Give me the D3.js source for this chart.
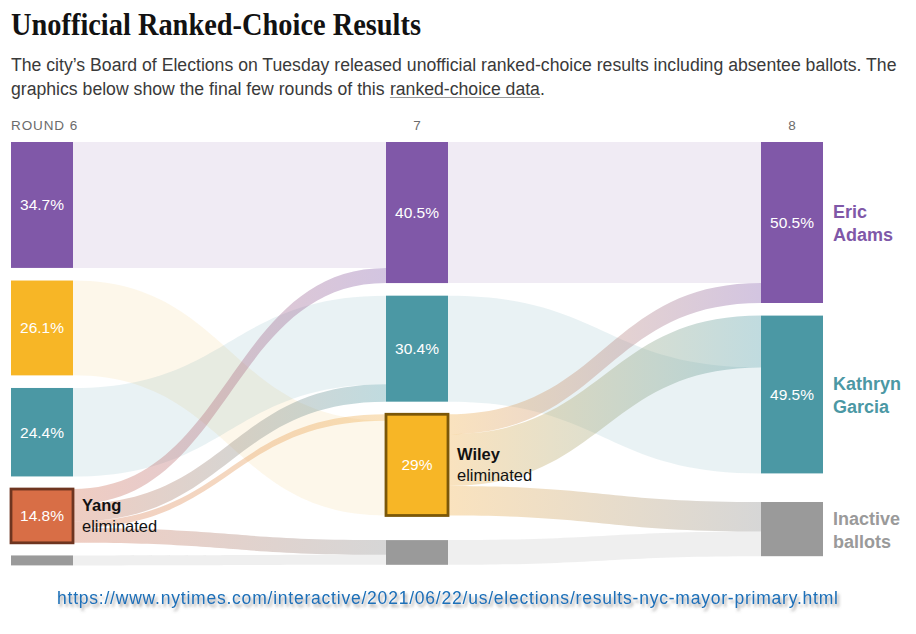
<!DOCTYPE html>
<html><head><meta charset="utf-8">
<script src="https://cdn.jsdelivr.net/npm/d3@7"></script>
<style>body{margin:0;background:#fff;} svg{display:block;}</style>
</head><body>
<svg id="chart" width="916" height="634"></svg>
<script>
// ---------------- DATA (votes in thousands) ----------------
const roundLabels = ["ROUND 6", "7", "8"];
const round6Names = ["Adams", "Wiley", "Garcia", "Yang", "Inactive"];
const round6Votes = [316, 238, 222, 135, 25];
const round6Pct   = ["34.7%", "26.1%", "24.4%", "14.8%", ""];
const round7Names = ["Adams", "Garcia", "Wiley", "Inactive"];
const round7Votes = [354, 266, 254, 62];
const round7Pct   = ["40.5%", "30.4%", "29%", ""];
const round8Names = ["Adams", "Garcia", "Inactive"];
const round8Votes = [404, 396, 136];
const round8Pct   = ["50.5%", "49.5%", ""];
const eliminated  = ["Yang", "Wiley"];
const yangTargets   = ["Adams", "Garcia", "Wiley", "Inactive"];
const yangTransfers = [38, 44, 16, 37];
const wileyTargets   = ["Adams", "Garcia", "Inactive"];
const wileyTransfers = [50, 130, 74];
const finalLabels = { Adams: ["Eric", "Adams"], Garcia: ["Kathryn", "Garcia"], Inactive: ["Inactive", "ballots"] };
const titleText = "Unofficial Ranked-Choice Results";
const subtitle1 = "The city\u2019s Board of Elections on Tuesday released unofficial ranked-choice results including absentee ballots. The";
const subtitle2a = "graphics below show the final few rounds of this";
const subtitle2b = "ranked-choice data";
const subtitle2c = ".";
const sourceUrl = "https://www.nytimes.com/interactive/2021/06/22/us/elections/results-nyc-mayor-primary.html";

// ---------------- STYLE / LAYOUT ----------------
const colors = { Adams: "#8058a8", Wiley: "#f7b626", Garcia: "#4b98a4", Yang: "#d86e46", Inactive: "#9a9a9a" };
const linkColors = { Adams: "#8058a8", Wiley: "#f0ad45", Garcia: "#4b98a4", Yang: "#d27050", Inactive: "#8a8a8a" };
const contColors = { Adams: "#8058a8", Wiley: "#eec15a", Garcia: "#4b98a4", Inactive: "#9a9a9a" };
const elimStroke = { Yang: "#6e3520", Wiley: "#7b5708" };
const transferOnTop = [[], ["Wiley", "Inactive"], ["Garcia", "Inactive"]];
const extraGap = [0, 12, 16];
const nodeW = 62, topY = 142, gap = 12.6;

const svg = d3.select("#chart");
const defs = svg.append("defs");
const sans = "'Liberation Sans', Arial, sans-serif";

const x = d3.scaleLinear().domain([0, 2]).range([11, 761]);
const totalVotes = d3.sum(round6Votes);
const h = d3.scaleLinear().domain([0, totalVotes]).range([0, 373]);

const rounds = [
  { names: round6Names, votes: round6Votes, pct: round6Pct },
  { names: round7Names, votes: round7Votes, pct: round7Pct },
  { names: round8Names, votes: round8Votes, pct: round8Pct }
];

// nodes
const columns = rounds.map((r, c) => {
  let y = topY;
  return r.names.map((name, i) => {
    if (name === "Inactive") y += extraGap[c];
    const n = { name, col: c, value: r.votes[i], pct: r.pct[i], x0: x(c), x1: x(c) + nodeW, y0: y, y1: y + h(r.votes[i]) };
    n.outOff = n.y0; n.inOff = n.y0;
    y = n.y1 + gap;
    return n;
  });
});
const findNode = (c, name) => columns[c].find(n => n.name === name);

// links
const links = [];
const transfers = [[yangTargets, yangTransfers], [wileyTargets, wileyTransfers]];
for (let c = 0; c < 2; c++) {
  const elim = eliminated[c];
  const [tNames, tVals] = transfers[c];
  const src = findNode(c, elim);
  const tLinks = tNames.map((t, i) => ({ source: src, target: findNode(c + 1, t), value: tVals[i], transfer: true }));
  const cLinks = columns[c].filter(n => n.name !== elim).map(n => ({ source: n, target: findNode(c + 1, n.name), value: n.value, transfer: false }));
  tLinks.forEach(l => { l.sy0 = src.outOff; l.sy1 = src.outOff + h(l.value); src.outOff = l.sy1; });
  cLinks.forEach(l => { l.sy0 = l.source.outOff; l.sy1 = l.sy0 + h(l.value); l.source.outOff = l.sy1; });
  columns[c + 1].forEach(t => {
    const inc = [...cLinks, ...tLinks].filter(l => l.target === t);
    const onTop = transferOnTop[c + 1].includes(t.name);
    inc.sort((a, b) => onTop ? (b.transfer - a.transfer) : (a.transfer - b.transfer));
    inc.forEach(l => { l.ty0 = t.inOff; l.ty1 = t.inOff + h(l.value); t.inOff = l.ty1; });
  });
  links.push(...cLinks, ...tLinks);
}

function band(l) {
  const x0 = l.source.x1, x1 = l.target.x0, xm = (x0 + x1) / 2;
  return `M${x0},${l.sy0}C${xm},${l.sy0} ${xm},${l.ty0} ${x1},${l.ty0}L${x1},${l.ty1}C${xm},${l.ty1} ${xm},${l.sy1} ${x0},${l.sy1}Z`;
}

const linkG = svg.append("g");
links.filter(l => !l.transfer).forEach(l => {
  linkG.append("path").attr("d", band(l))
    .attr("fill", contColors[l.source.name])
    .attr("fill-opacity", l.source.name === "Inactive" ? 0.16 : (l.source.name === "Wiley" ? 0.13 : 0.12));
});
links.filter(l => l.transfer).forEach((l, i) => {
  const id = "g" + i;
  const g = defs.append("linearGradient").attr("id", id)
    .attr("gradientUnits", "userSpaceOnUse")
    .attr("x1", l.source.x1).attr("x2", l.target.x0).attr("y1", 0).attr("y2", 0);
  g.append("stop").attr("offset", "0%").attr("stop-color", linkColors[l.source.name]);
  g.append("stop").attr("offset", "100%").attr("stop-color", linkColors[l.target.name]);
  linkG.append("path").attr("d", band(l)).attr("fill", `url(#${id})`).attr("fill-opacity", 0.35);
});

// nodes
const nodeG = svg.append("g");
columns.flat().forEach(n => {
  const isElim = eliminated[n.col] === n.name && n.col < 2;
  nodeG.append("rect")
    .attr("x", n.x0).attr("y", n.y0).attr("width", nodeW).attr("height", n.y1 - n.y0)
    .attr("fill", colors[n.name])
    .attr("stroke", isElim ? elimStroke[n.name] : "none")
    .attr("stroke-width", isElim ? 2.8 : 0);
  if (n.pct) {
    nodeG.append("text")
      .attr("x", n.x0 + nodeW / 2).attr("y", (n.y0 + n.y1) / 2)
      .attr("text-anchor", "middle").attr("dominant-baseline", "central")
      .attr("fill", "#fff").attr("font-family", sans).attr("font-size", 15.5)
      .text(n.pct);
  }
  if (isElim) {
    const cy = (n.y0 + n.y1) / 2;
    const t = nodeG.append("text").attr("font-family", sans).attr("font-size", 16.5).attr("fill", "#121212");
    t.append("tspan").attr("x", n.x1 + 9).attr("y", cy - 5).attr("font-weight", "bold").text(n.name);
    t.append("tspan").attr("x", n.x1 + 9).attr("y", cy + 16).text("eliminated");
  }
  if (n.col === 2) {
    const cy = (n.y0 + n.y1) / 2;
    const lab = finalLabels[n.name];
    const t = nodeG.append("text").attr("font-family", sans).attr("font-size", 18)
      .attr("font-weight", "bold").attr("fill", colors[n.name]);
    t.append("tspan").attr("x", n.x1 + 10).attr("y", cy - 4).text(lab[0]);
    t.append("tspan").attr("x", n.x1 + 10).attr("y", cy + 19).text(lab[1]);
  }
});

// round labels
roundLabels.forEach((r, c) => {
  svg.append("text")
    .attr("x", c === 0 ? x(c) : x(c) + nodeW / 2).attr("y", 130)
    .attr("text-anchor", c === 0 ? "start" : "middle")
    .attr("font-family", sans).attr("font-size", 13.5).attr("letter-spacing", c === 0 ? 0.9 : 0)
    .attr("fill", "#6b6b6b").text(r);
});

// title
svg.append("text").attr("x", 11).attr("y", 35)
  .attr("font-family", "'Liberation Serif', 'Times New Roman', serif")
  .attr("font-weight", "bold").attr("font-size", 32).attr("fill", "#121212")
  .attr("textLength", 410).attr("lengthAdjust", "spacingAndGlyphs")
  .text(titleText);

// subtitle: size fitted so that line 1 spans the reference width
const sub1 = svg.append("text").attr("x", 11).attr("y", 71)
  .attr("font-family", sans).attr("font-size", 18).attr("fill", "#3a3a3a")
  .text(subtitle1);
const natural = sub1.node().getComputedTextLength();
const subSize = 18 * 886 / natural;
sub1.attr("font-size", subSize);
const mk = (t, x0) => svg.append("text").attr("x", x0).attr("y", 95)
  .attr("font-family", sans).attr("font-size", subSize).attr("fill", "#3a3a3a").text(t);
const sA = mk(subtitle2a, 11);
const space = subSize * 0.3;
const bx = 11 + sA.node().getComputedTextLength() + space;
const sB = mk(subtitle2b, bx);
const bw = sB.node().getComputedTextLength();
mk(subtitle2c, bx + bw);
svg.append("line").attr("x1", bx).attr("x2", bx + bw).attr("y1", 97.5).attr("y2", 97.5)
  .attr("stroke", "#9a9a9a").attr("stroke-width", 1);

// source url with shadow
const f = defs.append("filter").attr("id", "shadow").attr("x", "-5%").attr("y", "-50%").attr("width", "110%").attr("height", "250%");
f.append("feDropShadow").attr("dx", 2).attr("dy", 3).attr("stdDeviation", 1.8)
  .attr("flood-color", "#555").attr("flood-opacity", 0.55);
const url = svg.append("text").attr("x", 57).attr("y", 604)
  .attr("font-family", sans).attr("font-size", 17.5).attr("fill", "#1a6fb8")
  .attr("filter", "url(#shadow)")
  .text(sourceUrl);
const uLen = url.node().getComputedTextLength();
url.attr("letter-spacing", (781 - uLen) / (sourceUrl.length - 1));
</script>
</body></html>
